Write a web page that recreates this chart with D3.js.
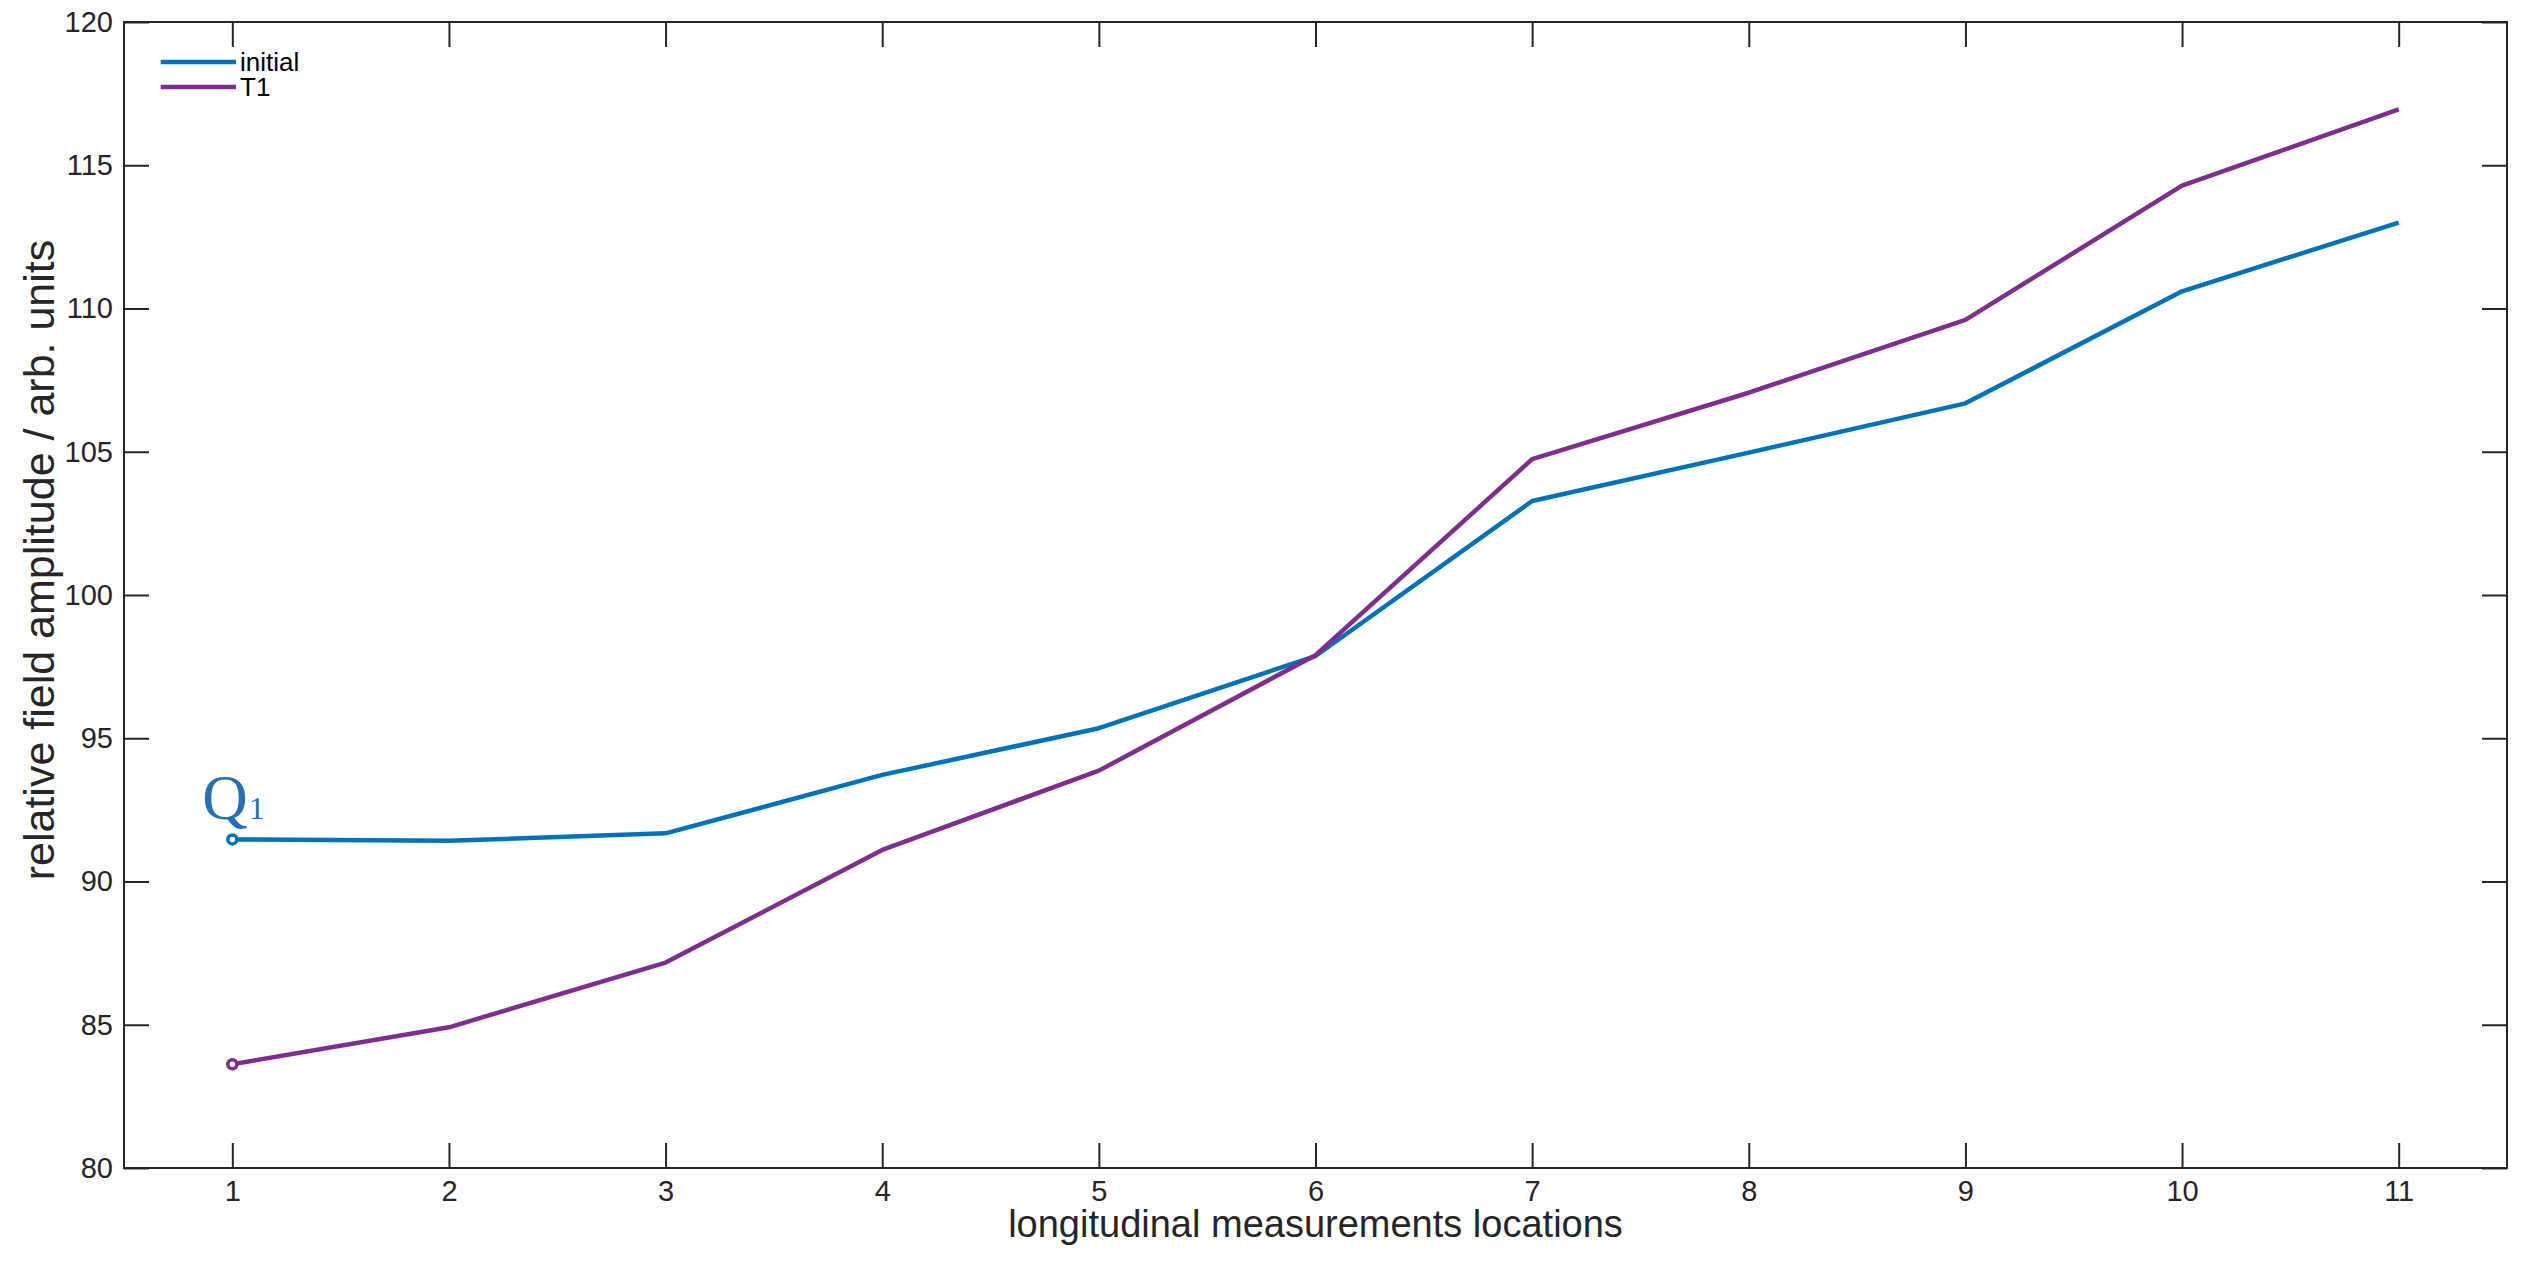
<!DOCTYPE html>
<html>
<head>
<meta charset="utf-8">
<script src="https://cdn.jsdelivr.net/npm/d3@7"></script>
<style>
  html, body { margin: 0; padding: 0; background: #fff; }
  svg { display: block; }
  text { font-family: "Liberation Sans", Arial, Helvetica, sans-serif; }
</style>
</head>
<body>
<svg id="chart" width="2534" height="1267"></svg>
<script>
// Measurement locations along the structure
const locations = [1, 2, 3, 4, 5, 6, 7, 8, 9, 10, 11];

// Relative field amplitude per location
const initialValues = [91.47, 91.42, 91.68, 93.72, 95.35, 97.87, 103.28, 104.97, 106.69, 110.60, 113.00];
const t1Values      = [83.62, 84.91, 87.17, 91.10, 93.87, 97.90, 104.74, 107.06, 109.60, 114.29, 116.95];

const seriesNames  = ["initial", "T1"];
const seriesColors = ["#0072BD", "#7E2F8E"];

const xTicks = [1, 2, 3, 4, 5, 6, 7, 8, 9, 10, 11];
const yTicks = [80, 85, 90, 95, 100, 105, 110, 115, 120];

const xLabel = "longitudinal measurements locations";
const yLabel = "relative field amplitude / arb. units";

const W = 2534, H = 1267;
const m = { left: 124, right: W - 2507, top: 22, bottom: H - 1168 };
const iw = W - m.left - m.right;
const ih = H - m.top - m.bottom;
const axisColor = "#262626";
const tickLen = 25;

const svg = d3.select("#chart");
const g = svg.append("g").attr("transform", `translate(${m.left},${m.top})`);

const x = d3.scaleLinear().domain([0.5, 11.5]).range([0, iw]);
const y = d3.scaleLinear().domain([80, 120]).range([ih, 0]);

// Axes with inward ticks on all four sides
function styleAxis(sel) {
  sel.select(".domain").remove();
  sel.selectAll(".tick line").attr("stroke", axisColor).attr("stroke-width", 2);
  sel.selectAll(".tick text")
    .attr("fill", axisColor)
    .style("font-size", "29px");
}

const xAxisB = g.append("g").attr("transform", `translate(0,${ih})`)
  .call(d3.axisBottom(x).tickValues(xTicks).tickSize(-tickLen).tickPadding(14).tickFormat(d3.format("d")));
styleAxis(xAxisB);
xAxisB.selectAll(".tick text").attr("dy", "0.71em").attr("y", 12);

const xAxisT = g.append("g")
  .call(d3.axisTop(x).tickValues(xTicks).tickSize(-tickLen).tickFormat(""));
styleAxis(xAxisT);

const yAxisL = g.append("g")
  .call(d3.axisLeft(y).tickValues(yTicks).tickSize(-tickLen).tickPadding(12).tickFormat(d3.format("d")));
styleAxis(yAxisL);
yAxisL.selectAll(".tick text").attr("x", -11);

const yAxisR = g.append("g").attr("transform", `translate(${iw},0)`)
  .call(d3.axisRight(y).tickValues(yTicks).tickSize(-tickLen).tickFormat(""));
styleAxis(yAxisR);

// Box frame
g.append("rect")
  .attr("x", 0).attr("y", 0).attr("width", iw).attr("height", ih)
  .attr("fill", "none").attr("stroke", axisColor).attr("stroke-width", 2);

// Series lines
const line = d3.line().x((d, i) => x(locations[i])).y(d => y(d));
const allSeries = [initialValues, t1Values];

allSeries.forEach((vals, k) => {
  g.append("path")
    .datum(vals)
    .attr("d", line)
    .attr("fill", "none")
    .attr("stroke", seriesColors[k])
    .attr("stroke-width", 4.5)
    .attr("stroke-linejoin", "round");
  // Marker at the first location
  g.append("circle")
    .attr("cx", x(locations[0]))
    .attr("cy", y(vals[0]))
    .attr("r", 4.5)
    .attr("fill", "#fff")
    .attr("stroke", seriesColors[k])
    .attr("stroke-width", 3.5);
});

// Q1 annotation above the first point of the initial series
const qx = x(locations[0]) - 30;
const qy = y(initialValues[0]) - 20;
const q = g.append("text")
  .attr("x", qx).attr("y", qy)
  .attr("fill", "#2470bb")
  .style("font-family", "'Liberation Serif', 'Times New Roman', serif");
q.append("tspan").style("font-size", "63px").text("Q");
q.append("tspan").style("font-size", "32px").attr("dx", 1).text("1");

// Legend
const legend = g.append("g");
seriesNames.forEach((name, k) => {
  const ly = 62 - m.top + k * 25;
  legend.append("line")
    .attr("x1", 160.7 - m.left).attr("x2", 236 - m.left)
    .attr("y1", ly).attr("y2", ly)
    .attr("stroke", seriesColors[k]).attr("stroke-width", 4.5);
  legend.append("text")
    .attr("x", 240 - m.left).attr("y", ly + 9)
    .attr("fill", "#000")
    .style("font-size", "26px")
    .text(name);
});

// Axis titles
svg.append("text")
  .attr("x", m.left + iw / 2).attr("y", 1237)
  .attr("text-anchor", "middle")
  .attr("fill", axisColor)
  .style("font-size", "38px")
  .text(xLabel);

svg.append("text")
  .attr("transform", `translate(54,560) rotate(-90)`)
  .attr("text-anchor", "middle")
  .attr("fill", axisColor)
  .style("font-size", "43px")
  .text(yLabel);
</script>
</body>
</html>
